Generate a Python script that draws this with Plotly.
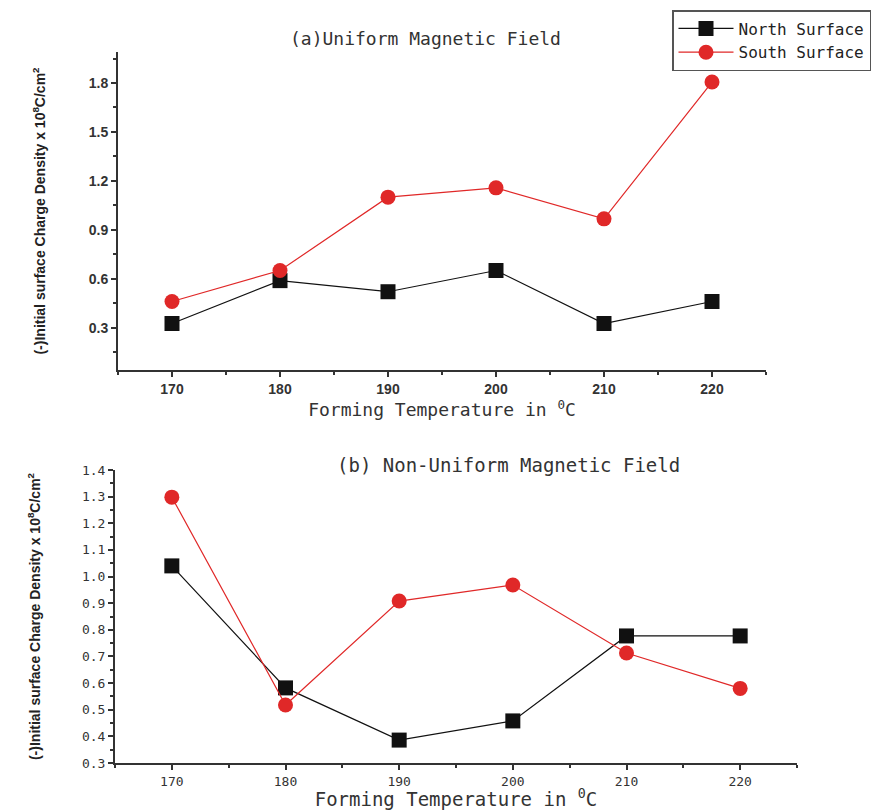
import plotly.graph_objects as go

temps = [170, 180, 190, 200, 210, 220]
north_a = [0.325, 0.588, 0.52, 0.65, 0.325, 0.46]
south_a = [0.46, 0.65, 1.10, 1.157, 0.967, 1.806]
north_b = [1.04, 0.582, 0.386, 0.458, 0.777, 0.777]
south_b = [1.298, 0.518, 0.908, 0.968, 0.713, 0.58]

ticks_a = [0.3, 0.6, 0.9, 1.2, 1.5, 1.8]
ticks_b = [0.3, 0.4, 0.5, 0.6, 0.7, 0.8, 0.9, 1.0, 1.1, 1.2, 1.3, 1.4]

W, H = 885, 810
BLACK = "#111111"
RED = "#e02828"
MONO = "DejaVu Sans Mono, Liberation Mono, monospace"
SANS = "Liberation Sans, Arial, sans-serif"

fig = go.Figure()

def add(x, y, name, color, symbol, xa, ya, show):
    fig.add_trace(go.Scatter(
        x=x, y=y, name=name, mode="lines+markers",
        line=dict(color=color, width=1.2),
        marker=dict(color=color, symbol=symbol, size=15, line=dict(width=0)),
        xaxis=xa, yaxis=ya, showlegend=show))

add(temps, north_a, "North Surface", BLACK, "square", "x", "y", True)
add(temps, south_a, "South Surface", RED, "circle", "x", "y", True)
add(temps, north_b, "North Surface", BLACK, "square", "x2", "y2", False)
add(temps, south_b, "South Surface", RED, "circle", "x2", "y2", False)

def px_x(p):
    return p / W

def px_y(p):
    return 1 - p / H

axis_common = dict(showline=True, linecolor="#333333", linewidth=2, ticks="outside",
                   tickcolor="#333333", tickwidth=1.5, ticklen=5, showgrid=False,
                   zeroline=False, mirror=False, automargin=False)
minor_style = dict(ticks="outside", ticklen=3, tickcolor="#333333", tickwidth=1.5)

ytitle = "(-)Initial surface Charge Density x 10<sup>8</sup>C/cm<sup>2</sup>"
xtitle = "Forming Temperature in <sup>0</sup>C"

fig.update_layout(
    width=W, height=H, margin=dict(l=0, r=0, t=0, b=0, autoexpand=False),
    paper_bgcolor="white", plot_bgcolor="white",
    xaxis=dict(domain=[px_x(118), px_x(766)], range=[165, 225], anchor="y",
               tickvals=temps, minor=dict(dtick=5, tick0=165, **minor_style),
               tickfont=dict(family=SANS, size=14, color="#333333", weight="bold"),
               title=dict(text=xtitle, font=dict(family=MONO, size=18, color="#333333"), standoff=4),
               **axis_common),
    yaxis=dict(domain=[px_y(370), px_y(52)], range=[0.04, 1.99], anchor="x",
               tickvals=ticks_a, ticktext=[f"{v:.1f}" for v in ticks_a],
               minor=dict(tickvals=[0.15, 0.45, 0.75, 1.05, 1.35, 1.65, 1.95], **minor_style),
               tickfont=dict(family=SANS, size=14, color="#333333", weight="bold"),
               title=dict(text=ytitle, font=dict(family=SANS, size=14, color="#222222", weight="bold"),
                          standoff=40),
               **axis_common),
    xaxis2=dict(domain=[px_x(115), px_x(797)], range=[165, 225], anchor="y2",
                tickvals=temps, minor=dict(dtick=5, tick0=165, **minor_style),
                tickfont=dict(family=MONO, size=13, color="#333333"),
                title=dict(text=xtitle, font=dict(family=MONO, size=19, color="#333333"), standoff=6),
                **axis_common),
    yaxis2=dict(domain=[px_y(763), px_y(470)], range=[0.3, 1.4], anchor="x2",
                tickvals=ticks_b, ticktext=[f"{v:.1f}" for v in ticks_b],
                minor=dict(dtick=0.05, tick0=0.3, **minor_style),
                tickfont=dict(family=MONO, size=13, color="#333333"),
                title=dict(text=ytitle, font=dict(family=SANS, size=14, color="#222222", weight="bold"),
                           standoff=38),
                **axis_common),
    legend=dict(xref="paper", yref="paper", x=px_x(672), xanchor="left",
                y=px_y(10), yanchor="top", bgcolor="white", bordercolor="#555555",
                borderwidth=1.5, font=dict(family=MONO, size=16, color="#222222"),
                itemwidth=55, tracegroupgap=0),
    annotations=[
        dict(text="(a)Uniform Magnetic Field", xref="paper", yref="paper",
             x=px_x(425), y=px_y(38), showarrow=False, xanchor="center", yanchor="middle",
             font=dict(family=MONO, size=18, color="#333333")),
        dict(text="(b) Non-Uniform Magnetic Field", xref="paper", yref="paper",
             x=px_x(508), y=px_y(465), showarrow=False, xanchor="center", yanchor="middle",
             font=dict(family=MONO, size=19, color="#333333")),
    ],
)

fig.write_html("out.html", config={"displayModeBar": False},
               post_script="document.body.style.margin='0';")
